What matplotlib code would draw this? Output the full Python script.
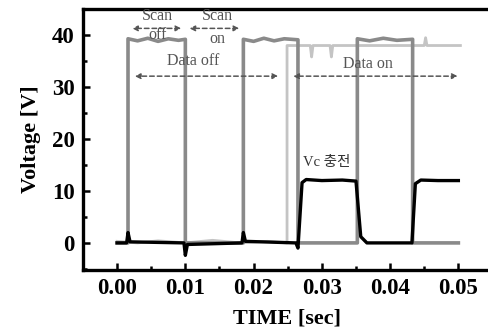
import matplotlib
matplotlib.use("Agg")
import matplotlib.pyplot as plt
from matplotlib.ticker import MultipleLocator

# ---- data ----
# medium gray square wave (scan signal)
scan_t = [0.0000, 0.0016, 0.0016, 0.0030, 0.0045, 0.0060, 0.0075, 0.0090, 0.0100, 0.0100,
          0.0185, 0.0185, 0.0200, 0.0215, 0.0230, 0.0245, 0.0265, 0.0265,
          0.0352, 0.0352, 0.0370, 0.0390, 0.0410, 0.0433, 0.0433, 0.0500]
scan_v = [0.0, 0.0, 39.3, 38.9, 39.4, 38.8, 39.3, 39.0, 39.2, 0.0,
          0.0, 39.2, 38.8, 39.4, 38.9, 39.3, 39.1, 0.0,
          0.0, 39.3, 38.9, 39.4, 39.0, 39.2, 0.0, 0.0]

# light gray data signal
data_t = [0.0000, 0.0030, 0.0060, 0.0100, 0.0140, 0.0180, 0.0220, 0.0249, 0.0249,
          0.0275, 0.0283, 0.0285, 0.0287, 0.0300, 0.0312, 0.0314, 0.0316,
          0.0330, 0.0400, 0.0440, 0.0450, 0.0452, 0.0454, 0.0470, 0.0503]
data_v = [0.3, 0.0, 0.4, 0.0, 0.5, 0.0, 0.3, 0.0, 38.0,
          38.0, 38.0, 35.8, 38.0, 38.0, 38.0, 35.8, 38.0,
          38.0, 38.0, 38.0, 38.0, 39.5, 38.0, 38.0, 38.0]

# black Vc signal
vc_t = [0.0000, 0.0014, 0.0016, 0.0019, 0.0098, 0.0100, 0.0103, 0.0183, 0.0185, 0.0188,
        0.0262, 0.0265, 0.0271, 0.0277, 0.0300, 0.0330, 0.0350, 0.0357, 0.0366,
        0.0400, 0.0432, 0.0437, 0.0445, 0.0470, 0.0500]
vc_v = [0.0, 0.0, 2.0, 0.2, 0.0, -2.4, -0.3, 0.0, 2.0, 0.3,
        0.0, -1.0, 11.6, 12.2, 12.0, 12.1, 11.9, 1.2, 0.0,
        0.0, 0.0, 11.4, 12.1, 12.0, 12.0]

x_ticks = [0.00, 0.01, 0.02, 0.03, 0.04, 0.05]
y_ticks = [0, 10, 20, 30, 40]

plt.rcParams['font.family'] = ['Liberation Serif', 'Noto Sans CJK KR', 'DejaVu Sans']

fig = plt.figure(figsize=(4.88, 3.32), dpi=100)
ax = fig.add_axes([0.170, 0.187, 0.835, 0.787])

ax.plot(data_t, data_v, color='#c4c4c4', lw=2.0, zorder=2)
ax.plot(scan_t, scan_v, color='#8a8a8a', lw=2.6, zorder=3)
ax.plot(vc_t, vc_v, color='black', lw=2.4, zorder=4)

ax.set_xlim(-0.005, 0.0547)
ax.set_ylim(-5.2, 45.1)
ax.set_xticks(x_ticks)
ax.set_xticklabels([f"{v:.2f}" for v in x_ticks])
ax.set_yticks(y_ticks)
ax.xaxis.set_minor_locator(MultipleLocator(0.005))
ax.yaxis.set_minor_locator(MultipleLocator(5))
ax.tick_params(which='both', direction='in', width=1.8, color='black')
ax.tick_params(which='major', length=5, labelsize=16.5, pad=6)
ax.tick_params(which='minor', length=3)
for lab in ax.get_xticklabels() + ax.get_yticklabels():
    lab.set_fontweight('bold')
for s in ax.spines.values():
    s.set_linewidth(2.4)
ax.spines['right'].set_visible(False)

ax.set_xlabel('TIME [sec]', fontsize=16, fontweight='bold', labelpad=7)
ax.set_ylabel('Voltage [V]', fontsize=16, fontweight='bold', labelpad=8)

ann_color = '#555555'
arrow_kw = dict(arrowstyle='<|-|>', linestyle=(0, (3, 2)), lw=1.1, color=ann_color,
                mutation_scale=8, shrinkA=0, shrinkB=0)
ax.annotate('', xy=(0.0022, 41.3), xytext=(0.0094, 41.3), arrowprops=arrow_kw)
ax.annotate('', xy=(0.0106, 41.3), xytext=(0.0179, 41.3), arrowprops=arrow_kw)
ax.annotate('', xy=(0.0026, 32.1), xytext=(0.0236, 32.1), arrowprops=arrow_kw)
ax.annotate('', xy=(0.0258, 32.1), xytext=(0.0499, 32.1), arrowprops=arrow_kw)

ax.text(0.0059, 43.6, 'Scan', ha='center', va='center', fontsize=11.5, color=ann_color)
ax.text(0.0059, 40.0, 'off', ha='center', va='center', fontsize=11.5, color=ann_color)
ax.text(0.0147, 43.6, 'Scan', ha='center', va='center', fontsize=11.5, color=ann_color)
ax.text(0.0147, 39.2, 'on', ha='center', va='center', fontsize=11.5, color=ann_color)
ax.text(0.0111, 35.0, 'Data off', ha='center', va='center', fontsize=11.5, color=ann_color)
ax.text(0.0368, 34.4, 'Data on', ha='center', va='center', fontsize=11.5, color=ann_color)
ax.text(0.0273, 15.4, 'Vc 충전', ha='left', va='center', fontsize=10.5, color='#333333')

fig.savefig('out.png', dpi=100)
